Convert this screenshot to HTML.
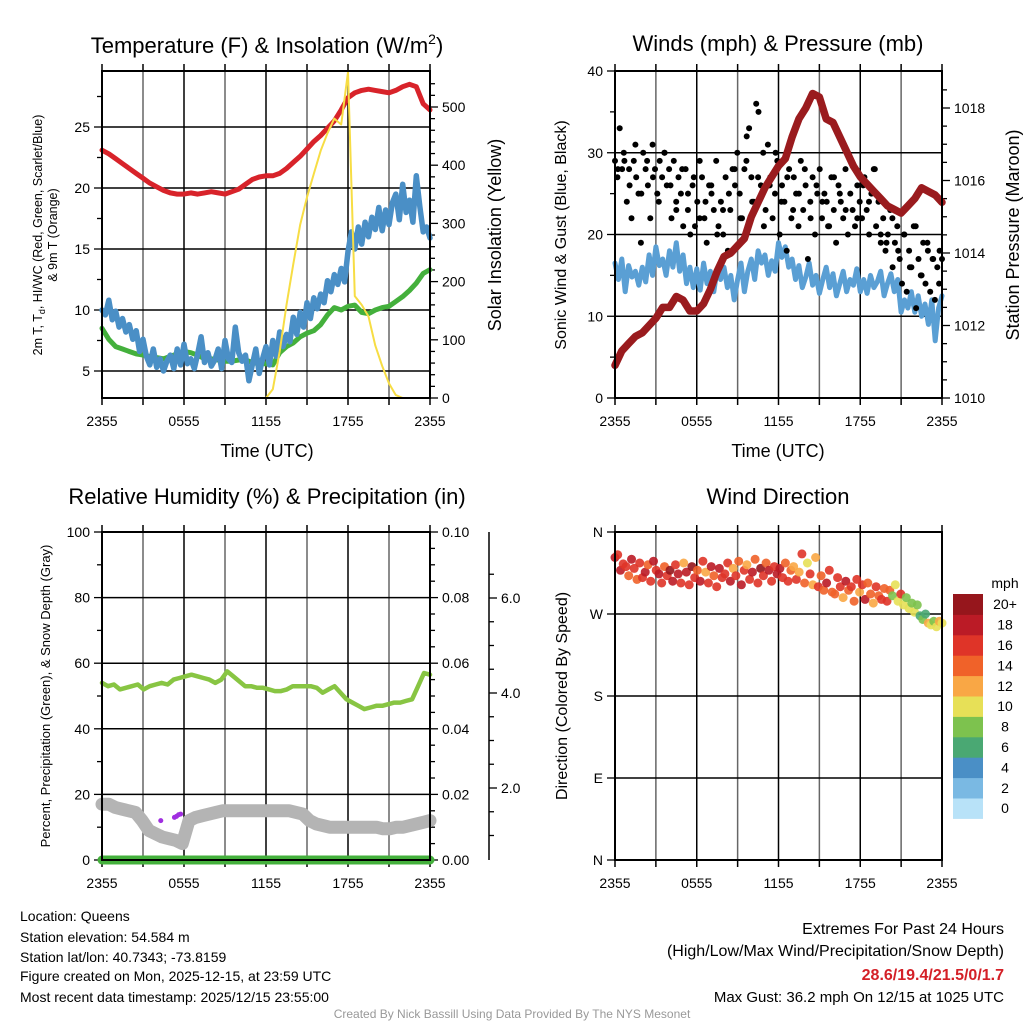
<!DOCTYPE html>
<html><head><meta charset="utf-8"><style>
body{margin:0;background:#fff}
svg{display:block;font-family:"Liberation Sans",sans-serif}
</style></head><body>
<svg id="s" width="1024" height="1024" viewBox="0 0 1024 1024" xmlns="http://www.w3.org/2000/svg">
<rect width="1024" height="1024" fill="#fff"/>
<g id="g1"></g>
<g id="g2"></g>
<g id="g3"></g>
<g id="g4"></g>
<g id="txt" font-size="14" fill="#000">
<text x="267" y="53" font-size="22" text-anchor="middle">Temperature (F) &amp; Insolation (W/m<tspan font-size="14" dy="-9">2</tspan><tspan dy="9">)</tspan></text>
<text x="778" y="51" font-size="22" text-anchor="middle">Winds (mph) &amp; Pressure (mb)</text>
<text x="267" y="504" font-size="22" text-anchor="middle">Relative Humidity (%) &amp; Precipitation (in)</text>
<text x="778" y="504" font-size="22" text-anchor="middle">Wind Direction</text>
<text x="267" y="457" font-size="18" text-anchor="middle">Time (UTC)</text>
<text x="778" y="457" font-size="18" text-anchor="middle">Time (UTC)</text>
<text transform="translate(42,235) rotate(-90)" font-size="12.5" text-anchor="middle">2m T, T<tspan font-size="9" dy="3">d</tspan><tspan dy="-3">, HI/WC (Red, Green, Scarlet/Blue)</tspan></text>
<text transform="translate(57,235) rotate(-90)" font-size="12.5" text-anchor="middle">&amp; 9m T (Orange)</text>
<text transform="translate(501,235) rotate(-90)" font-size="18" text-anchor="middle">Solar Insolation (Yellow)</text>
<text transform="translate(566,235) rotate(-90)" font-size="16" text-anchor="middle">Sonic Wind &amp; Gust (Blue, Black)</text>
<text transform="translate(1019,235) rotate(-90)" font-size="18" text-anchor="middle">Station Pressure (Maroon)</text>
<text transform="translate(50,696) rotate(-90)" font-size="13" text-anchor="middle">Percent, Precipitation (Green), &amp; Snow Depth (Gray)</text>
<text transform="translate(567,696) rotate(-90)" font-size="16" text-anchor="middle">Direction (Colored By Speed)</text>
<text x="20" y="921">Location: Queens</text>
<text x="20" y="942">Station elevation: 54.584 m</text>
<text x="20" y="962">Station lat/lon: 40.7343; -73.8159</text>
<text x="20" y="981">Figure created on Mon, 2025-12-15, at 23:59 UTC</text>
<text x="20" y="1002">Most recent data timestamp: 2025/12/15 23:55:00</text>
<text x="1004" y="934" font-size="16" text-anchor="end">Extremes For Past 24 Hours</text>
<text x="1004" y="956" font-size="16" text-anchor="end">(High/Low/Max Wind/Precipitation/Snow Depth)</text>
<text x="1004" y="980" font-size="16" font-weight="bold" fill="#d42027" text-anchor="end">28.6/19.4/21.5/0/1.7</text>
<text x="1004" y="1002" font-size="15" text-anchor="end">Max Gust: 36.2 mph On 12/15 at 1025 UTC</text>
<text x="512" y="1018" font-size="12" fill="#999" text-anchor="middle">Created By Nick Bassill Using Data Provided By The NYS Mesonet</text>
</g>
</svg>
<script>
// ---- data ----
const xTickLabels = ["2355","0555","1155","1755","2355"];
const tempTicks = [5,10,15,20,25];
const insolTicks = [0,100,200,300,400,500];
const windTicks = [0,10,20,30,40];
const presTicks = [1010,1012,1014,1016,1018];
const rhTicks = [0,20,40,60,80,100];
const precipTickLabels = ["0.00","0.02","0.04","0.06","0.08","0.10"];
const snowTicks = [2.0,4.0,6.0];
const dirLabels = ["N","E","S","W","N"];
const speedBinLabels = ["0","2","4","6","8","10","12","14","16","18","20+"];

const tempRed = [23.1,22.8,22.4,22.0,21.6,21.2,20.8,20.4,20.1,19.8,19.6,19.5,19.5,19.6,19.5,19.6,19.7,19.6,19.5,19.7,19.9,20.3,20.7,20.9,21.0,21.0,21.2,21.6,22.1,22.6,23.2,23.8,24.3,24.9,25.5,26.4,27.4,27.8,28.0,28.1,28.0,27.9,27.8,28.0,28.3,28.5,28.3,26.9,26.4];
const tempBlue = [10.0,9.6,10.8,9.2,9.9,8.6,9.3,8.2,8.8,7.6,8.3,6.6,7.6,6.2,5.5,6.8,5.3,6.0,5.0,5.8,6.3,5.2,6.8,5.5,7.2,5.6,6.0,5.2,6.4,7.8,5.7,6.5,5.4,5.9,6.8,5.2,7.5,6.0,5.7,8.6,6.5,5.8,6.3,4.2,5.5,6.8,4.8,6.0,7.0,5.5,7.5,6.2,8.2,7.0,8.0,7.4,9.4,8.0,9.8,8.6,10.6,9.3,11.0,10.1,11.3,10.6,12.4,11.5,12.9,12.1,13.4,12.3,14.8,16.4,15.0,16.8,15.4,17.2,16.0,17.6,16.6,18.4,16.5,18.2,17.0,18.8,19.5,17.4,20.3,18.0,19.0,17.2,21.0,18.5,16.4,16.8,15.9];
const dewGreen = [8.5,7.6,7.0,6.8,6.6,6.4,6.3,6.2,6.1,6.0,6.2,6.4,6.6,6.5,6.3,6.0,6.0,5.9,5.8,5.8,5.9,5.9,5.7,5.6,5.6,5.5,6.5,7.0,7.3,7.8,8.1,8.3,8.8,9.6,10.2,10.0,10.3,10.4,9.8,9.7,10.0,10.2,10.3,10.7,11.1,11.6,12.2,13.0,13.3];
const insolation = [0,0,0,0,0,0,0,0,0,0,0,0,0,0,0,0,0,0,0,0,0,0,0,0,0,15,80,160,230,298,345,385,425,455,480,470,560,175,160,140,90,55,25,5,0,0,0,0,0];

const windBlue = [16.5,14.5,17.0,13.0,16.2,14.8,15.5,13.8,16.0,14.2,17.5,15.0,18.5,16.2,17.0,15.0,18.0,16.0,19.0,15.5,17.5,14.0,16.0,13.5,15.8,13.2,16.5,14.0,15.5,13.0,15.8,14.5,16.0,13.5,15.0,12.0,14.5,16.5,13.0,15.5,17.0,14.5,18.0,16.5,17.5,15.0,16.8,15.5,19.0,17.2,18.5,16.0,17.0,14.5,16.2,13.5,14.8,16.5,13.8,15.0,12.8,14.5,16.0,13.5,15.2,12.5,14.0,15.5,13.0,14.5,13.8,15.8,13.0,14.5,12.8,15.0,13.5,14.2,15.5,12.5,14.0,15.2,13.0,14.5,10.5,12.0,11.0,13.0,10.5,12.5,10.0,11.5,9.0,12.0,7.0,11.0,12.5];
const gusts = [29,27,33,28,29,24,28,22,29,27,25,19,30,28,26,22,31,28,25,29,27,30,26,28,22,29,24,27,25,21,28,23,20,26,21,
24,29,27,22,19,26,25,23,29,21,24,20,27,18,23,28,26,30,25,22,28,32,33,27,24,36,35,26,30,23,31,27,22,25,29,
20,26,24,18,28,22,27,25,21,29,23,26,17,24,27,20,25,28,22,25,24,21,27,23,19,26,24,22,28,20,25,23,21,26,24,
22,27,23,20,25,28,21,24,19,22,18,20,23,16,19,21,17,14,20,13,18,16,21,11,17,15,19,14,18,13,17,12,16,18,17];
const gusts2 = [28,30,26,31,25,29,27,24,30,26,23,28,25,27,22,24,26,20,23,25,28,22,29,24,27,21,26,30,24,27,23,25,28,22,26,24,21,27,25,23,29,22,26,24,28,20,19,22,18,20,16,21,15,19,17,14];
const pressure = [1010.9,1011.3,1011.5,1011.7,1011.8,1012.0,1012.2,1012.5,1012.5,1012.8,1012.7,1012.4,1012.4,1012.6,1013.0,1013.5,1013.9,1014.0,1014.2,1014.4,1015.0,1015.4,1015.8,1016.1,1016.4,1016.6,1017.2,1017.7,1018.0,1018.4,1018.3,1017.7,1017.6,1017.2,1016.8,1016.4,1016.1,1015.9,1015.7,1015.5,1015.3,1015.2,1015.1,1015.3,1015.5,1015.8,1015.7,1015.6,1015.4];

const rh = [54,53,53.5,52,52.5,53,53.5,52,53,53.5,54,53.5,55,55.5,56,56.5,56,55.5,55,54,55,57.5,56,54.5,53,53,52.5,52.5,52,51.5,51.5,52,53,53,53,53,52.5,51,52,53,51,49,48,47,46,46.5,47,47,47.5,48,48,48.5,49,53,57,56.5];
const snowGray = [17,17,16,15.5,15,14.5,12,9,8,7,6.5,6,5,12,13,13.5,14,14.5,15,15,15,15,15,15,15,15,15,15,15,14.5,14,12,11,10.5,10,10,10,10,10,10,10,10,9.5,9.5,10,10,10.5,11,11.5,12];
const precip = [0,0,0,0,0,0,0,0,0,0,0,0,0];
const purpleHours = [4.3,5.3,5.45,5.6,5.75];
const purpleVals = [12,13,13.3,13.8,14];

const dirs = [332,335,318,325,322,312,330,320,308,326,310,316,324,306,328,318,314,304,322,312,
318,306,324,314,304,326,316,302,322,310,318,306,328,316,304,322,312,300,320,310,
314,326,306,320,312,328,302,318,324,308,316,330,304,320,312,326,318,306,322,314,
320,310,326,306,318,322,308,316,336,304,326,314,302,332,300,312,296,304,318,294,
292,310,300,288,306,296,300,284,308,294,302,286,304,292,282,300,290,286,298,284,
296,290,302,284,292,280,288,276,282,272,280,268,264,270,260,258,262,256,262,260];
const speeds = [19,17,18,16,17,15,18,16,14,17,16,18,15,17,19,16,18,17,15,16,
20,18,16,19,17,13,18,16,20,17,14,19,16,12,17,18,15,16,19,17,
17,16,18,13,17,15,19,16,12,17,18,14,16,20,17,15,18,16,17,19,
18,16,14,17,15,13,16,12,17,14,11,16,13,12,17,15,14,18,16,14,
14,16,17,13,18,15,16,14,17,12,16,18,14,15,13,16,15,17,14,16,
15,9,10,11,16,10,9,11,8,10,9,7,8,6,12,10,9,11,12,10];
const binColors = ["#b8e2f8","#7ab9e3","#4a8fc6","#4aa873","#7dc24e","#e7e057","#f9a745","#f06229","#df3428","#bb1b26","#96161c"];

// ---- helpers ----
const NS="http://www.w3.org/2000/svg";
function mk(parent,tag,attrs){const e=document.createElementNS(NS,tag);for(const k in attrs)e.setAttribute(k,attrs[k]);parent.appendChild(e);return e;}
function lin(d0,d1,r0,r1){return v=>r0+(v-d0)*(r1-r0)/(d1-d0);}
function hourOf(i,n){return i*24/(n-1);}

function frame(g,L,R,T,B,xs){
  for(let h=0;h<=24;h+=3){const x=xs(h);
    const l=mk(g,'line',{x1:x,x2:x,y1:T,y2:B,stroke:(h%6===0)?'#000':'#666','stroke-width':1.5});
    
    
    const t=mk(g,'line',{x1:x,x2:x,y1:B,y2:B+7,stroke:'#000','stroke-width':1.5});
    
    
    const t2=mk(g,'line',{x1:x,x2:x,y1:T,y2:T-7,stroke:'#000','stroke-width':1.5});
    
    
  }
  xTickLabels.forEach((lab,i)=>{
    const t=mk(g,'text',{x:xs(i*6),y:B+28,'text-anchor':'middle','font-size':14});t.textContent=lab;
    
    
  });
}
function hgrid(g,L,R,y){
  const l=mk(g,'line',{x1:L,x2:R,y1:y,y2:y,stroke:'#000','stroke-width':1.5});
  
  
}
function ytick(g,x,y,label,side,major){
  const len=major?8:5;
  const l=mk(g,'line',{x1:x,x2:side==='left'?x-len:x+len,y1:y,y2:y,stroke:'#000','stroke-width':1.3});
  
  
  if(label!==null){
    const t=mk(g,'text',{x:side==='left'?x-12:x+12,y:y+5,'text-anchor':side==='left'?'end':'start','font-size':14});t.textContent=label;
    
    
  }
}
function border(g,L,R,T,B){
  const r=mk(g,'rect',{x:L,y:T,width:R-L,height:B-T,fill:'none',stroke:'#000','stroke-width':2});
  
  
}
function path(g,arr,xs,ys,attrs,name){
  const d=arr.map((v,i)=>(i?'L':'M')+xs(hourOf(i,arr.length)).toFixed(1)+','+ys(v).toFixed(1)).join('');
  const p=mk(g,'path',Object.assign({d:d,fill:'none','stroke-linejoin':'round','stroke-linecap':'round'},attrs));
  
  
  return p;
}

// ---- panel 1 ----
(function(){
  const g=document.getElementById('g1');const L=102,R=430,T=71,B=398;
  const xs=lin(0,24,L,R), ys=lin(5,25,371,127), yi=lin(0,500,398,107);
  frame(g,L,R,T,B,xs);
  tempTicks.forEach(v=>{hgrid(g,L,R,ys(v));ytick(g,L,ys(v),String(v),'left',true);});
  for(let v=2.5;v<30;v+=5){if(ys(v)>T&&ys(v)<B)ytick(g,L,ys(v),null,'left',false);}
  insolTicks.forEach(v=>ytick(g,R,yi(v),String(v),'right',true));
  for(let v=20;v<560;v+=20){if(v%100)ytick(g,R,yi(v),null,'right',false);}
  path(g,dewGreen,xs,ys,{stroke:'#44b03c','stroke-width':5},'dewpoint-line');
  path(g,tempBlue,xs,ys,{stroke:'#4a8fc6','stroke-width':5.5},'wind-chill-line');
  path(g,tempRed,xs,ys,{stroke:'#d8232a','stroke-width':5},'temperature-line');
  path(g,insolation,xs,yi,{stroke:'#f7dd44','stroke-width':2},'insolation-line');
  border(g,L,R,T,B);
})();

// ---- panel 2 ----
(function(){
  const g=document.getElementById('g2');const L=615,R=942,T=71,B=398;
  const xs=lin(0,24,L,R), yw=lin(0,40,398,71), yp=lin(1010,1018,398,108);
  frame(g,L,R,T,B,xs);
  windTicks.forEach(v=>{if(v>0&&v<40)hgrid(g,L,R,yw(v));ytick(g,L,yw(v),String(v),'left',true);});
  for(let v=5;v<40;v+=10)ytick(g,L,yw(v),null,'left',false);
  presTicks.forEach(v=>ytick(g,R,yp(v),String(v),'right',true));
  for(let v=1010.5;v<1019;v+=0.5){if(v%2&&yp(v)>T)ytick(g,R,yp(v),null,'right',false);}
  path(g,windBlue,xs,yw,{stroke:'#5a9fd4','stroke-width':5},'sonic-wind-line');
  gusts.forEach((v,i)=>{
    const c=mk(g,'circle',{cx:xs(hourOf(i,gusts.length)).toFixed(1),cy:yw(v).toFixed(1),r:3,fill:'#000'});
    
    
  });
  gusts2.forEach((v,i)=>{
    const c=mk(g,'circle',{cx:xs(hourOf(i+0.5,gusts2.length+1)).toFixed(1),cy:yw(v).toFixed(1),r:3,fill:'#000'});
    
    
  });
  path(g,pressure,xs,yp,{stroke:'#9a1b1e','stroke-width':7.5},'pressure-line');
  border(g,L,R,T,B);
})();

// ---- panel 3 ----
(function(){
  const g=document.getElementById('g3');const L=102,R=430,T=532,B=860;
  const xs=lin(0,24,L,R), yr=lin(0,100,860,532), ysn=lin(2,6,788,598);
  frame(g,L,R,T,B,xs);
  rhTicks.forEach((v,i)=>{if(v>0&&v<100)hgrid(g,L,R,yr(v));ytick(g,L,yr(v),String(v),'left',true);ytick(g,R,yr(v),precipTickLabels[i],'right',true);});
  for(let v=10;v<100;v+=20){ytick(g,L,yr(v),null,'left',false);}
  for(let v=5;v<100;v+=5){if(v%20)ytick(g,R,yr(v),null,'right',false);}
  const ax=mk(g,'line',{x1:489,x2:489,y1:T,y2:B,stroke:'#000','stroke-width':1.5});
  
  
  snowTicks.forEach(v=>ytick(g,489,ysn(v),v.toFixed(1),'right',true));
  for(let v=1.0;v<7;v+=0.5){if(v%2&&ysn(v)>T&&ysn(v)<B)ytick(g,489,ysn(v),null,'right',false);}
  path(g,snowGray,xs,yr,{stroke:'#b4b4b4','stroke-width':13},'snow-depth-line');
  path(g,rh,xs,yr,{stroke:'#88c543','stroke-width':4.5},'humidity-line');
  path(g,precip,xs,yr,{stroke:'#44b03c','stroke-width':9},'precipitation-line');
  purpleHours.forEach((h,i)=>{
    const c=mk(g,'circle',{cx:xs(h),cy:yr(purpleVals[i]),r:2.5,fill:'#a02ee0'});
    
    
  });
  border(g,L,R,T,B);
})();

// ---- panel 4 ----
(function(){
  const g=document.getElementById('g4');const L=615,R=942,T=532,B=860;
  const xs=lin(0,24,L,R), yd=lin(0,360,860,532);
  frame(g,L,R,T,B,xs);
  dirLabels.forEach((lab,i)=>{const v=i*90;if(v>0&&v<360)hgrid(g,L,R,yd(v));ytick(g,L,yd(v),lab,'left',true);});
  dirs.forEach((d,i)=>{
    const bin=Math.max(0,Math.min(10,Math.floor(speeds[i]/2)));
    const c=mk(g,'circle',{cx:xs(hourOf(i,dirs.length)).toFixed(1),cy:yd(d).toFixed(1),r:4.5,fill:binColors[bin],'fill-opacity':0.9});
    
    
  });
  border(g,L,R,T,B);
  const lt=mk(g,'text',{x:1005,y:588,'font-size':14,'text-anchor':'middle'});lt.textContent='mph';
  
  
  const bh=20.4;
  speedBinLabels.forEach((lab,i)=>{
    const y=594+(10-i)*bh;
    const r=mk(g,'rect',{x:953,y:y.toFixed(1),width:30,height:bh+0.5,fill:binColors[i]});
    
    
    const t=mk(g,'text',{x:1005,y:(y+bh/2+5).toFixed(1),'font-size':14,'text-anchor':'middle'});t.textContent=lab;
    
    
  });
})();
</script>
</body></html>
